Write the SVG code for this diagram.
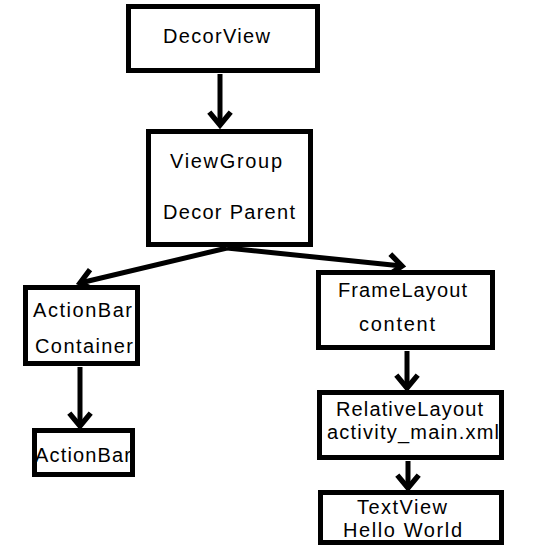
<svg xmlns="http://www.w3.org/2000/svg" width="533" height="549" viewBox="0 0 533 549">
<style>
.box{fill:#fff;stroke:#000;stroke-width:5}
.lbl{font-family:"Liberation Sans","Noto Sans",Arial,sans-serif;font-size:20px;fill:#000}
.edge{stroke:#000;stroke-width:5;fill:none}
</style>
<defs>
<marker id="arr" markerUnits="userSpaceOnUse" markerWidth="30" markerHeight="30" viewBox="-16 -14 20 28" refX="0" refY="0" orient="auto" overflow="visible">
<path d="M-12,-10 L0,0 L-12,10" fill="none" stroke="#000" stroke-width="5" stroke-linejoin="miter"/>
</marker>
</defs>
<rect width="533" height="549" fill="#fff"/>
<g id="connectors">
<line class="edge" x1="220" y1="74" x2="220" y2="125" marker-end="url(#arr)"/>
<line class="edge" x1="227" y1="248" x2="80" y2="283" marker-end="url(#arr)"/>
<line class="edge" x1="227" y1="248" x2="402" y2="266" marker-end="url(#arr)"/>
<line class="edge" x1="80" y1="367" x2="80" y2="426" marker-end="url(#arr)"/>
<line class="edge" x1="407" y1="351" x2="407" y2="388" marker-end="url(#arr)"/>
<line class="edge" x1="408" y1="461" x2="408" y2="488" marker-end="url(#arr)"/>
</g>
<g id="decorview">
<rect class="box" x="128.5" y="6.5" width="189" height="64"/>
<text class="lbl" x="163" y="43" textLength="107">DecorView</text>
</g>
<g id="viewgroup">
<rect class="box" x="148.5" y="131.5" width="162" height="113"/>
<text class="lbl" x="170" y="168" textLength="112">ViewGroup</text>
<text class="lbl" x="163" y="219" textLength="132">Decor Parent</text>
</g>
<g id="actionbarcontainer">
<rect class="box" x="25.5" y="287.5" width="112" height="76"/>
<text class="lbl" x="33" y="317" textLength="99">ActionBar</text>
<text class="lbl" x="35" y="353" textLength="98">Container</text>
</g>
<g id="actionbar">
<rect class="box" x="34.5" y="430.5" width="98" height="44"/>
<text class="lbl" x="35" y="462" textLength="96">ActionBar</text>
</g>
<g id="framelayout">
<rect class="box" x="318.5" y="272.5" width="174" height="75"/>
<text class="lbl" x="338" y="297" textLength="129">FrameLayout</text>
<text class="lbl" x="359" y="331" textLength="76">content</text>
</g>
<g id="relativelayout">
<rect class="box" x="319.5" y="392.5" width="182" height="65"/>
<text class="lbl" x="336" y="416" textLength="147">RelativeLayout</text>
<text class="lbl" x="327" y="439" textLength="172">activity_main.xml</text>
</g>
<g id="textview">
<rect class="box" x="320.5" y="492.5" width="181" height="50"/>
<text class="lbl" x="357" y="514" textLength="90">TextView</text>
<text class="lbl" x="343" y="537" textLength="119">Hello World</text>
</g>
</svg>
